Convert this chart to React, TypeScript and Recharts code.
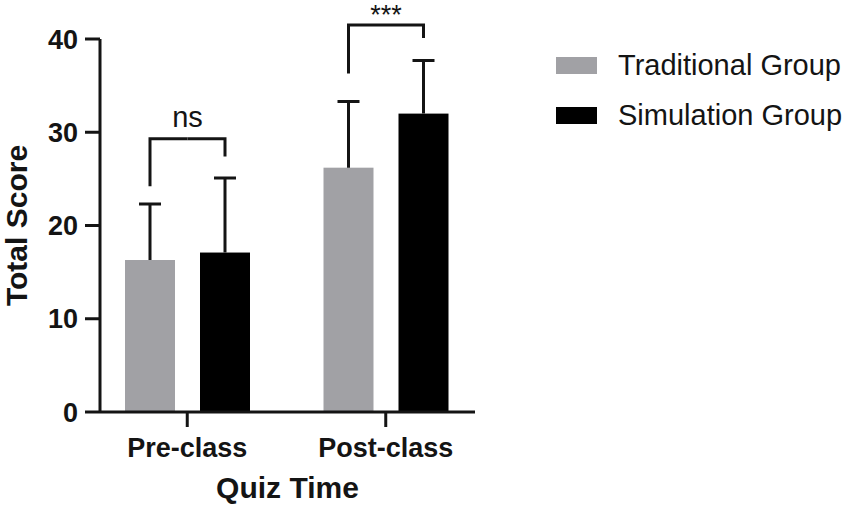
import { Bar, BarChart, Legend, XAxis, YAxis } from "recharts";

const quizTimes = ["Pre-class", "Post-class"];
const seriesNames = ["Traditional Group", "Simulation Group"];
const traditionalMean = [16.3, 26.2];
const traditionalSd = [6.0, 7.1];
const simulationMean = [17.1, 32.0];
const simulationSd = [8.0, 5.7];
const yTicks = [0, 10, 20, 30, 40];

// significance brackets (in score units)
const sigLabels = ["ns", "***"];
const bracketTop = [29.3, 41.5];
const bracketLegTraditional = [24.2, 36.3];
const bracketLegSimulation = [27.4, 40.1];

const data = quizTimes.map((quiz, i) => ({
  quiz,
  traditional: traditionalMean[i],
  simulation: simulationMean[i],
}));

const FONT = "'Liberation Sans', Arial, sans-serif";
const INK = "#141414";
const BAR_GAP = 25;

function groupShape(group: "traditional" | "simulation") {
  return (props: any) => {
    const { x, y, width, height, fill, index } = props;
    const isTrad = group === "traditional";
    const mean = isTrad ? traditionalMean[index] : simulationMean[index];
    const sd = isTrad ? traditionalSd[index] : simulationSd[index];
    const k = height / mean;
    const base = y + height;
    const toY = (v: number) => base - v * k;
    const cx = x + width / 2;
    const errTop = toY(mean + sd);
    const mid = isTrad ? x + width + BAR_GAP / 2 : x - BAR_GAP / 2;
    const legLow = toY(isTrad ? bracketLegTraditional[index] : bracketLegSimulation[index]);
    const by = toY(bracketTop[index]);
    const label = sigLabels[index];
    const textGap = label.startsWith("*") ? 1 : 12;
    return (
      <g>
        <rect x={x} y={y} width={width} height={height} fill={fill} />
        <path
          d={`M${cx},${y} V${errTop} M${cx - 11},${errTop} H${cx + 11}`}
          stroke={INK}
          strokeWidth={3}
          fill="none"
        />
        <path
          d={isTrad ? `M${cx},${legLow} V${by} H${mid}` : `M${mid},${by} H${cx} V${legLow}`}
          stroke={INK}
          strokeWidth={3}
          fill="none"
        />
        {isTrad && (
          <text
            x={mid}
            y={by - textGap}
            textAnchor="middle"
            fontSize={label.startsWith("*") ? 27 : 29}
            fontFamily={FONT}
            fill={INK}
          >
            {label}
          </text>
        )}
      </g>
    );
  };
}

const renderLegend = ({ payload }: any) => {
  const items = [...(payload || [])].sort(
    (a: any, b: any) => seriesNames.indexOf(a.value) - seriesNames.indexOf(b.value)
  );
  return (
    <div style={{ display: "flex", flexDirection: "column", fontFamily: FONT }}>
      {items.map((entry: any) => (
        <div key={entry.value} style={{ display: "flex", alignItems: "center", height: 49.5 }}>
          <span style={{ width: 41, height: 17, background: entry.color, marginRight: 21 }} />
          <span style={{ fontSize: 29, color: INK, whiteSpace: "nowrap" }}>{entry.value}</span>
        </div>
      ))}
    </div>
  );
};

export default function App() {
  const tickStyle = { fontSize: 27, fontWeight: 700, fill: INK, fontFamily: FONT };
  return (
    <div style={{ position: "absolute", left: 0, top: 0, background: "#fff" }}>
      <BarChart
        width={856}
        height={506}
        data={data}
        margin={{ top: 39, right: 381, bottom: 34, left: 40 }}
        barSize={50}
        barGap={BAR_GAP}
        style={{ fontFamily: FONT }}
      >
        <XAxis
          dataKey="quiz"
          height={60}
          padding={{ left: -12, right: -10 }}
          axisLine={{ stroke: INK, strokeWidth: 3 }}
          tickLine={{ stroke: INK, strokeWidth: 3 }}
          tickSize={15}
          tickMargin={11}
          tick={tickStyle}
          label={{
            value: "Quiz Time",
            content: ({ viewBox }: any) => (
              <text
                x={viewBox.x + viewBox.width / 2}
                y={498}
                textAnchor="middle"
                fontSize={30}
                fontWeight={700}
                fontFamily={FONT}
                fill={INK}
              >
                Quiz Time
              </text>
            ),
          }}
        />
        <YAxis
          width={60}
          domain={[0, 40]}
          ticks={yTicks}
          interval={0}
          axisLine={{ stroke: INK, strokeWidth: 3 }}
          tickLine={{ stroke: INK, strokeWidth: 3 }}
          tickSize={15}
          tickMargin={7}
          tick={tickStyle}
          label={{
            value: "Total Score",
            content: ({ viewBox }: any) => {
              const cy = viewBox.y + viewBox.height / 2;
              return (
                <text
                  x={27}
                  y={cy}
                  transform={`rotate(-90, 27, ${cy})`}
                  textAnchor="middle"
                  fontSize={30}
                  fontWeight={700}
                  fontFamily={FONT}
                  fill={INK}
                >
                  Total Score
                </text>
              );
            },
          }}
        />
        <Legend
          layout="horizontal"
          verticalAlign="middle"
          align="center"
          content={renderLegend}
          wrapperStyle={{ top: 41, left: 556, width: 300 }}
        />
        <Bar
          dataKey="traditional"
          name={seriesNames[0]}
          fill="#a1a1a5"
          shape={groupShape("traditional")}
          isAnimationActive={false}
        />
        <Bar
          dataKey="simulation"
          name={seriesNames[1]}
          fill="#000000"
          shape={groupShape("simulation")}
          isAnimationActive={false}
        />
      </BarChart>
    </div>
  );
}
